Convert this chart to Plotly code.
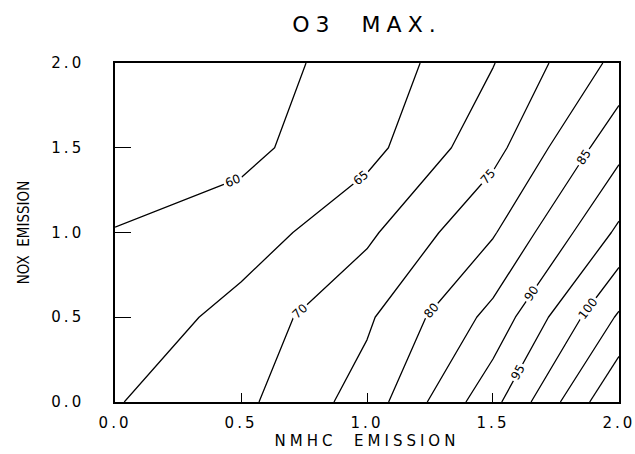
import plotly.graph_objects as go

# NMHC emission (x) and NOx emission (y) grid
nmhc = [0.0, 0.5, 1.0, 1.5, 2.0]
nox = [0.0, 0.5, 1.0, 1.5, 2.0]
# O3 maximum, rows follow nox, columns follow nmhc
o3_max = [
    [64.7, 68.8, 77.2, 93.5, 115.0],
    [61.0, 67.0, 74.2, 86.6, 105.7],
    [60.2, 62.2, 69.0, 79.5, 96.0],
    [57.0, 58.8, 63.3, 73.3, 88.5],
    [55.0, 58.4, 61.5, 69.8, 81.5],
]
tick_vals = [0.0, 0.5, 1.0, 1.5, 2.0]
tick_text = ["0.0", "0.5", "1.0", "1.5", "2.0"]

FONT = "DejaVu Sans"

def spaced(t, px):
    return '<span style="letter-spacing:%dpx">%s</span>' % (px, t)

fig = go.Figure(go.Contour(
    x=nmhc, y=nox, z=o3_max,
    contours=dict(start=60, end=110, size=5, coloring="lines",
                  showlabels=True,
                  labelfont=dict(family=FONT, size=12, color="black")),
    colorscale=[[0, "black"], [1, "black"]],
    line=dict(width=1.3, smoothing=0),
    showscale=False,
    hoverinfo="skip",
))

axis_common = dict(
    range=[-0.0001, 2.0001],
    tickvals=tick_vals,
    ticks="inside",
    tickcolor="black",
    tickwidth=1.2,
    showline=True,
    linecolor="black",
    linewidth=1.6,
    mirror=True,
    showgrid=False,
    zeroline=False,
    automargin=False,
    ticklabeloverflow="allow",
    tickfont=dict(family=FONT, size=15, color="black"),
)

fig.update_layout(
    width=635, height=454,
    margin=dict(l=115, r=16, t=63, b=52),
    paper_bgcolor="white", plot_bgcolor="white",
    title=dict(text=spaced("O3  MAX.", 6), x=(115 + 619) / 2 / 635, xanchor="center",
               y=1 - 24 / 454, yanchor="middle",
               font=dict(family=FONT, size=22, color="black")),
    xaxis=dict(axis_common, ticktext=[spaced(t, 3) for t in tick_text],
               ticklen=9, ticklabelstandoff=6,
               title=dict(text=spaced("NMHC  EMISSION", 4), standoff=2,
                          font=dict(family=FONT, size=15, color="black"))),
    yaxis=dict(axis_common, ticktext=[spaced(t, 3) for t in tick_text],
               ticklen=16, ticklabelstandoff=26,
               title=dict(text="NOX  EMISSION", standoff=18,
                          font=dict(family="DejaVu Sans Condensed, Liberation Sans",
                                    size=15, color="black"))),
)

fig.write_html("out.html")
